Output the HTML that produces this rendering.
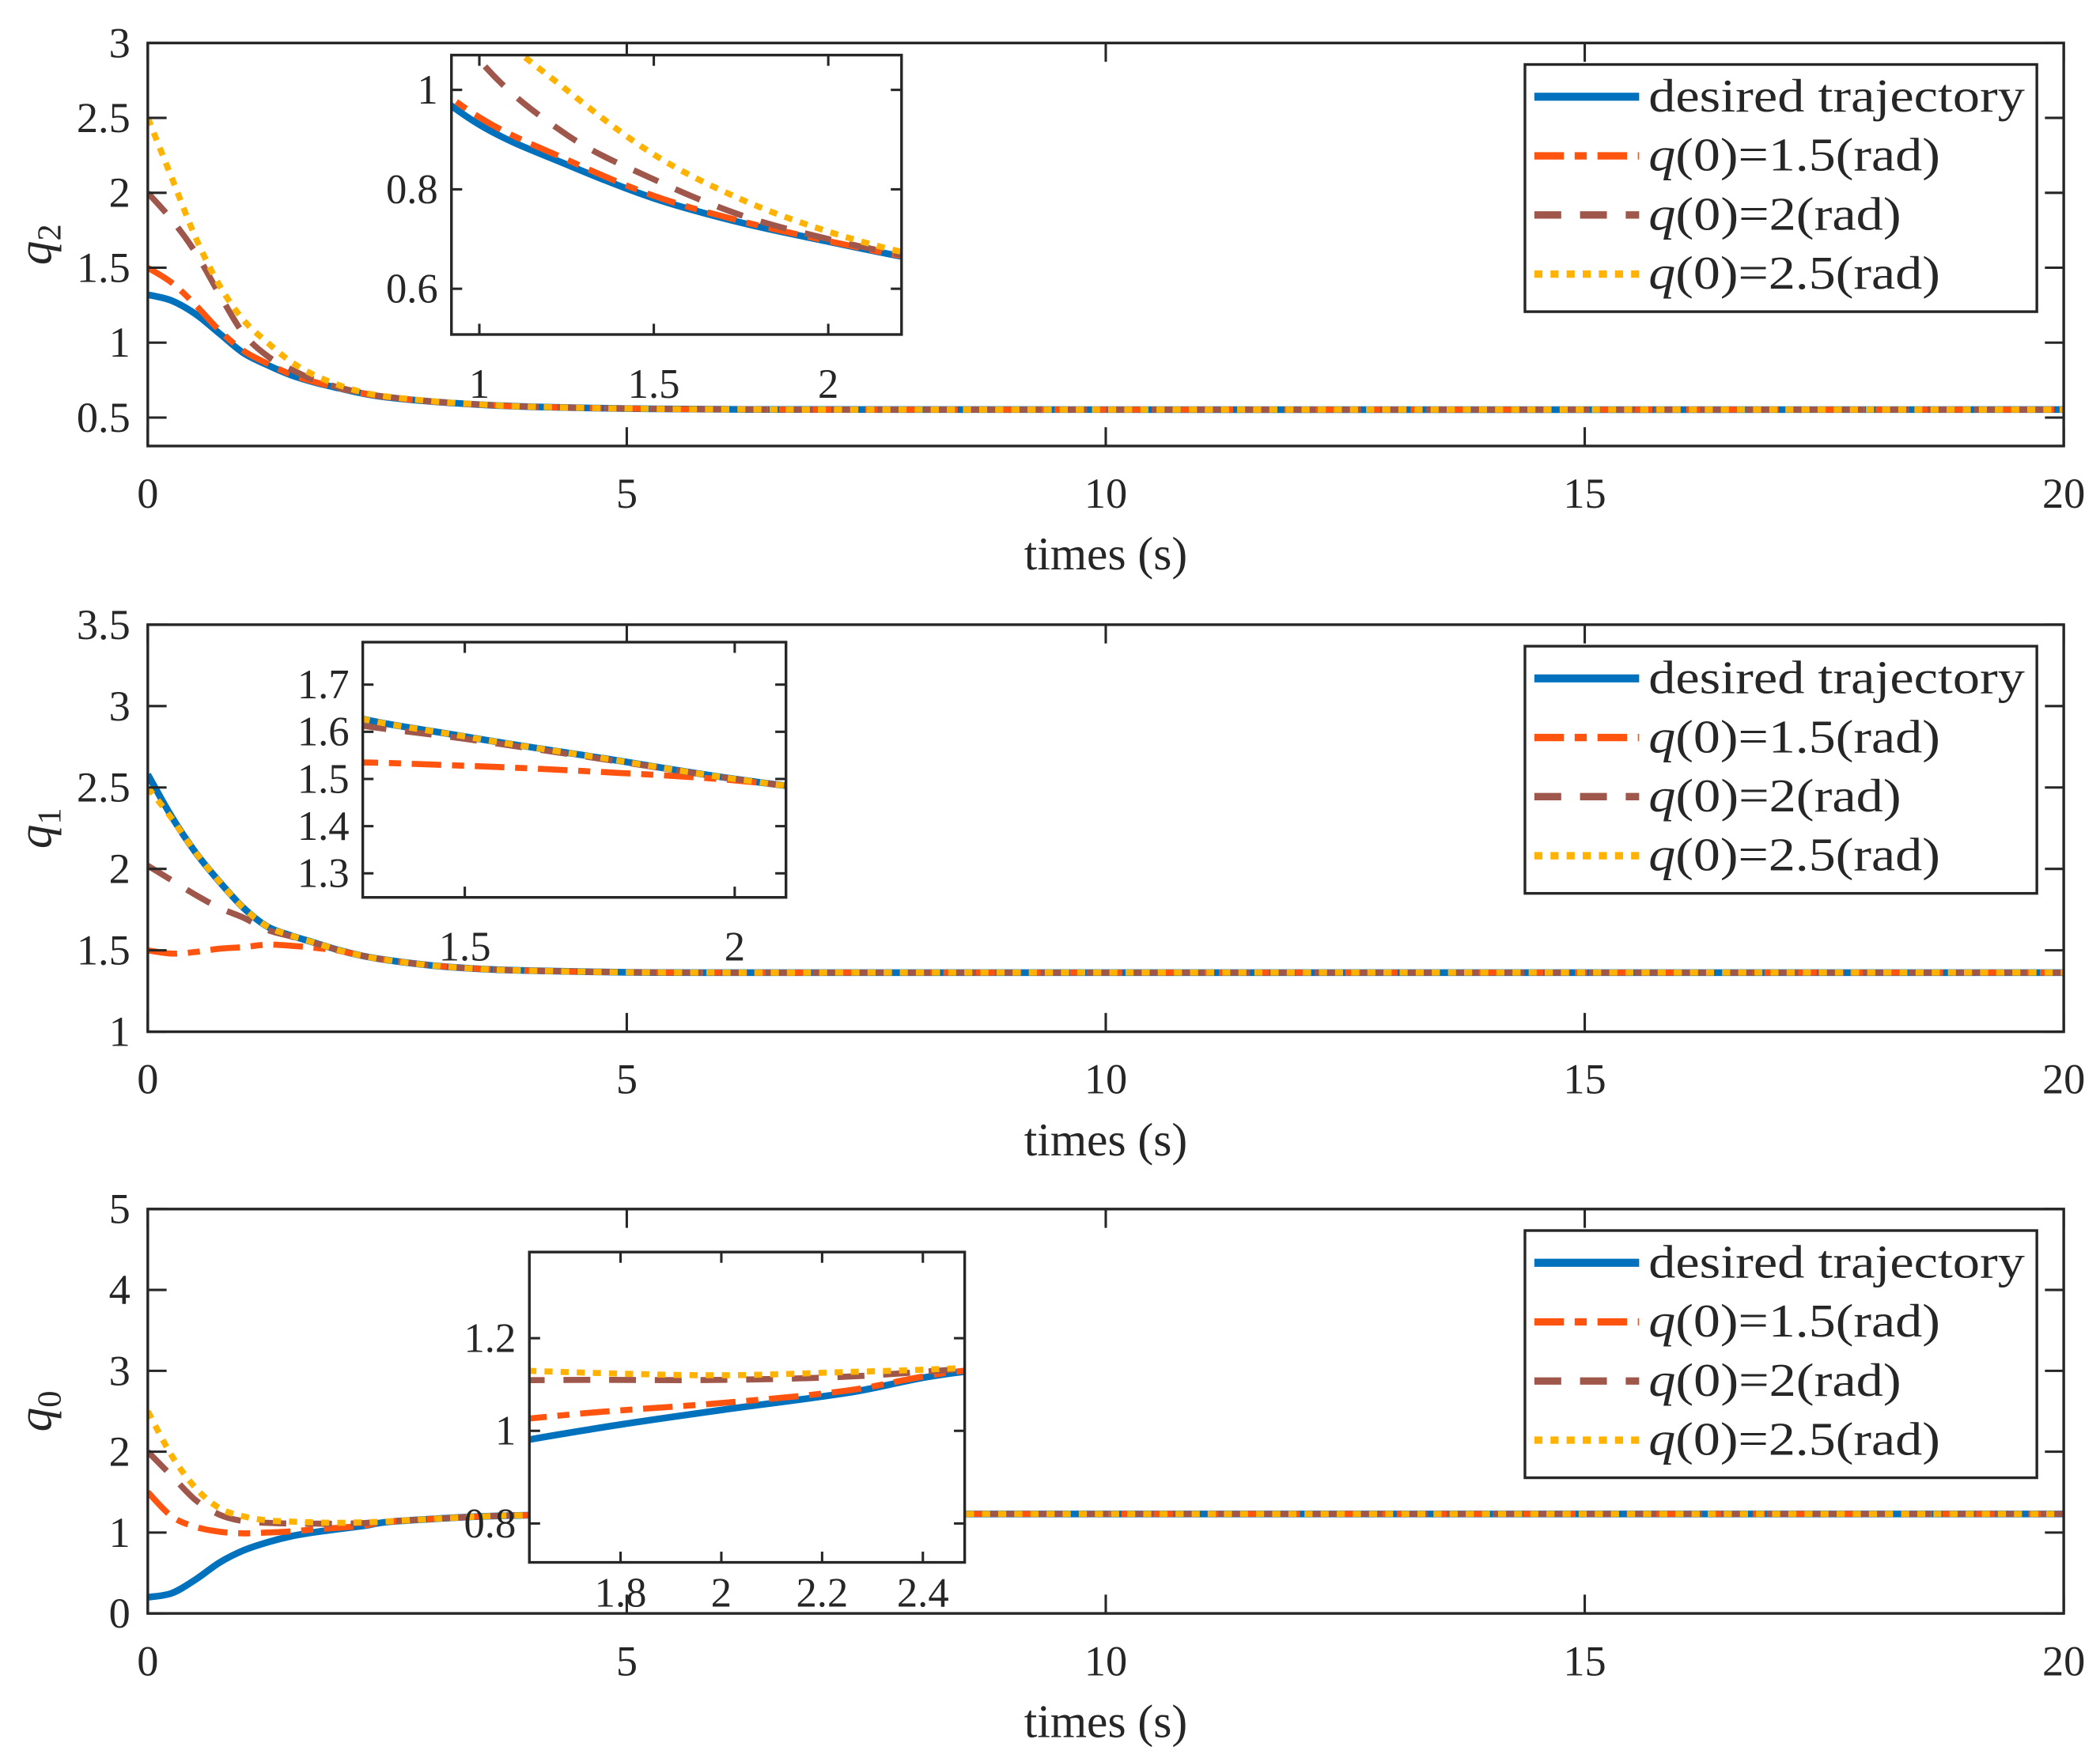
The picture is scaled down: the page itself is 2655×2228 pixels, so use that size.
<!DOCTYPE html>
<html><head><meta charset="utf-8">
<style>
html,body{margin:0;padding:0;background:#fff;}
svg{display:block;}
text{font-family:"Liberation Serif",serif;fill:#262626;}
</style></head>
<body>
<svg id="fig" width="2655" height="2228" viewBox="0 0 1563 1311.6" preserveAspectRatio="none" xmlns="http://www.w3.org/2000/svg"></svg>
<script>
// ---------- data ----------
const tGrid = [0,0.25,0.5,0.75,1,1.25,1.5,1.75,2,2.25,2.5,3,3.5,4,5,6,8,20];
// panel q2
const q2Desired = [1.32,1.28,1.19,1.06,0.93,0.85,0.782,0.733,0.695,0.66,0.635,0.605,0.585,0.572,0.56,0.555,0.553,0.553];
const q2Init15  = [1.5,1.40,1.25,1.08,0.945,0.86,0.787,0.736,0.696,0.661,0.636,0.605,0.585,0.572,0.56,0.555,0.553,0.553];
const q2Init2   = [2.0,1.82,1.6,1.32,1.06,0.91,0.82,0.748,0.70,0.663,0.637,0.606,0.585,0.572,0.56,0.555,0.553,0.553];
const q2Init25  = [2.5,2.1,1.7,1.38,1.15,1.0,0.87,0.78,0.715,0.668,0.64,0.607,0.586,0.572,0.56,0.555,0.553,0.553];
// panel q1
const q1Desired = [2.58,2.32,2.1,1.92,1.76,1.645,1.59,1.545,1.50,1.465,1.44,1.405,1.385,1.375,1.365,1.363,1.363,1.363];
const q1Init15  = [1.5,1.48,1.49,1.51,1.52,1.535,1.528,1.515,1.497,1.465,1.44,1.405,1.385,1.375,1.365,1.363,1.363,1.363];
const q1Init2   = [2.02,1.93,1.84,1.76,1.70,1.625,1.585,1.543,1.50,1.465,1.44,1.405,1.385,1.375,1.365,1.363,1.363,1.363];
const q1Init25  = [2.5,2.31,2.1,1.92,1.76,1.645,1.59,1.545,1.50,1.465,1.44,1.405,1.385,1.375,1.365,1.363,1.363,1.363];
// panel q0
const q0Desired = [0.2,0.25,0.42,0.63,0.78,0.88,0.955,1.005,1.045,1.082,1.13,1.17,1.2,1.215,1.225,1.23,1.23,1.23];
const q0Init15  = [1.5,1.2,1.07,1.01,0.99,1.0,1.015,1.04,1.06,1.087,1.132,1.17,1.2,1.215,1.225,1.23,1.23,1.23];
const q0Init2   = [2.0,1.7,1.4,1.22,1.14,1.12,1.11,1.11,1.11,1.117,1.135,1.17,1.2,1.215,1.225,1.23,1.23,1.23];
const q0Init25  = [2.5,1.95,1.55,1.3,1.2,1.15,1.135,1.125,1.12,1.127,1.137,1.17,1.2,1.215,1.225,1.23,1.23,1.23];

const xTicks = [0,5,10,15,20];
const q2Ticks = [0.5,1,1.5,2,2.5,3];
const q1Ticks = [1,1.5,2,2.5,3,3.5];
const q0Ticks = [0,1,2,3,4,5];
const legendLabels = ["desired trajectory","q(0)=1.5(rad)","q(0)=2(rad)","q(0)=2.5(rad)"];
const legendWidths = [280,217,188,217];

// ---------- styles ----------
const NS="http://www.w3.org/2000/svg";
const svg=document.getElementById('fig');
const styles=[
 {c:"#0072BD",w:5,d:""},
 {c:"#FF5410",w:4.5,d:"22 8 9 8"},
 {c:"#A0574B",w:4.5,d:"20 14"},
 {c:"#FFB300",w:4.5,d:"6 6"}
];
function el(tag,attrs,parent){const e=document.createElementNS(NS,tag);for(const k in attrs)e.setAttribute(k,attrs[k]);(parent||svg).appendChild(e);return e;}
function lin(d0,d1,r0,r1){return v=>r0+(v-d0)/(d1-d0)*(r1-r0);}
function pathD(xs,ys,sx,sy){
  const P=xs.map((x,i)=>[sx(x),sy(ys[i])]);
  let d="M"+P[0][0]+","+P[0][1];
  for(let i=0;i<P.length-1;i++){
    const p0=P[Math.max(0,i-1)],p1=P[i],p2=P[i+1],p3=P[Math.min(P.length-1,i+2)];
    let c1x=p1[0]+(p2[0]-p0[0])/6,c1y=p1[1]+(p2[1]-p0[1])/6;
    let c2x=p2[0]-(p3[0]-p1[0])/6,c2y=p2[1]-(p3[1]-p1[1])/6;
    c1x=Math.min(Math.max(c1x,p1[0]),p2[0]);c2x=Math.min(Math.max(c2x,p1[0]),p2[0]);
    d+=" C"+c1x+","+c1y+" "+c2x+","+c2y+" "+p2[0]+","+p2[1];
  }
  return d;
}
let clipId=0;
function drawSeries(g,series,sx,sy,box){
  const id="clip"+(clipId++);
  const cp=el('clipPath',{id:id},g);
  el('rect',{x:box[0],y:box[1],width:box[2]-box[0],height:box[3]-box[1]},cp);
  const sg=el('g',{'clip-path':'url(#'+id+')'},g);
  series.forEach((s,i)=>{
    const p=el('path',{d:pathD(tGrid,s,sx,sy),fill:'none',stroke:styles[i].c,'stroke-width':styles[i].w,'stroke-dasharray':styles[i].d},sg);
    
    
  });
}
function frame(g,box,xt,yt,sx,sy,tl,fs,xLabY,yLabX){
  const [x0,y0,x1,y1]=box;
  xt.forEach(v=>{const x=sx(v);
    el('line',{x1:x,y1:y1,x2:x,y2:y1-tl,stroke:'#262626','stroke-width':1.8},g);
    el('line',{x1:x,y1:y0,x2:x,y2:y0+tl,stroke:'#262626','stroke-width':1.8},g);
    const t=el('text',{x:x,y:xLabY,'font-size':fs,'text-anchor':'middle'},g);t.textContent=v;
    
    
  });
  yt.forEach(v=>{const y=sy(v);
    el('line',{x1:x0,y1:y,x2:x0+tl,y2:y,stroke:'#262626','stroke-width':1.8},g);
    el('line',{x1:x1,y1:y,x2:x1-tl,y2:y,stroke:'#262626','stroke-width':1.8},g);
    const t=el('text',{x:yLabX,y:y+fs*0.33,'font-size':fs,'text-anchor':'end'},g);t.textContent=v;
    
    
  });
  const r=el('rect',{x:x0,y:y0,width:x1-x0,height:y1-y0,fill:'none',stroke:'#262626','stroke-width':2},g);
  
  
}
function panel(cfg){
  const g=el('g',{});
  
  
  const box=[110,cfg.top,1536,cfg.bot];
  const sx=lin(0,20,110,1536), sy=lin(cfg.ylim[0],cfg.ylim[1],cfg.bot,cfg.top);
  drawSeries(g,cfg.series,sx,sy,box);
  frame(g,box,xTicks,cfg.yticks,sx,sy,14,32,cfg.bot+46,97);
  const xl=el('text',{x:823,y:cfg.bot+92,'font-size':35,'text-anchor':'middle'},g);xl.textContent="times (s)";
  
  
  const ym=(cfg.top+cfg.bot)/2;
  const yl=el('text',{x:0,y:0,'font-size':36,'font-style':'italic',transform:'translate(38,'+ym+') rotate(-90)','text-anchor':'middle'},g);
  yl.innerHTML='q<tspan font-size="25" font-style="normal" dy="7">'+cfg.sub+'</tspan>';
  
  
  // inset
  const ib=cfg.inset.box;
  const ig=el('g',{},g);
  
  
  el('rect',{x:ib[0],y:ib[1],width:ib[2]-ib[0],height:ib[3]-ib[1],fill:'#fff'},ig);
  const isx=lin(cfg.inset.xlim[0],cfg.inset.xlim[1],ib[0],ib[2]);
  const isy=lin(cfg.inset.ylim[0],cfg.inset.ylim[1],ib[3],ib[1]);
  drawSeries(ig,cfg.series,isx,isy,ib);
  frame(ig,ib,cfg.inset.xt,cfg.inset.yt,isx,isy,8,31,cfg.inset.xLabY,ib[0]-10);
  // legend
  const lt=cfg.top+16;
  const lg=el('g',{},g);
  
  
  el('rect',{x:1135,y:lt,width:381,height:184,fill:'#fff',stroke:'#262626','stroke-width':2},lg);
  legendLabels.forEach((lab,i)=>{
    const y=lt+24+i*44;
    el('line',{x1:1142,y1:y,x2:1220,y2:y,stroke:styles[i].c,'stroke-width':styles[i].w+1,'stroke-dasharray':styles[i].d},lg);
    const t=el('text',{x:1227,y:y+11,'font-size':35,textLength:legendWidths[i],lengthAdjust:'spacingAndGlyphs'},lg);
    if(i===0)t.textContent=lab;
    else t.innerHTML='<tspan font-style="italic">q</tspan>'+lab.slice(1);
    
    
  });
}
panel({name:'panel-q2',top:32,bot:332,ylim:[0.31,3],yticks:q2Ticks,sub:'2',
  series:[q2Desired,q2Init15,q2Init2,q2Init25],
  inset:{box:[336,41,671,249],xlim:[0.92,2.21],ylim:[0.508,1.07],xt:[1,1.5,2],yt:[0.6,0.8,1],xLabY:296}});
panel({name:'panel-q1',top:465,bot:768,ylim:[1,3.5],yticks:q1Ticks,sub:'1',
  series:[q1Desired,q1Init15,q1Init2,q1Init25],
  inset:{box:[270,478,585,668],xlim:[1.311,2.095],ylim:[1.249,1.79],xt:[1.5,2],yt:[1.3,1.4,1.5,1.6,1.7],xLabY:715}});
panel({name:'panel-q0',top:900,bot:1201,ylim:[0,5],yticks:q0Ticks,sub:'0',
  series:[q0Desired,q0Init15,q0Init2,q0Init25],
  inset:{box:[394,932,718,1163],xlim:[1.619,2.483],ylim:[0.716,1.386],xt:[1.8,2,2.2,2.4],yt:[0.8,1,1.2],xLabY:1196}});
</script>
</body></html>
